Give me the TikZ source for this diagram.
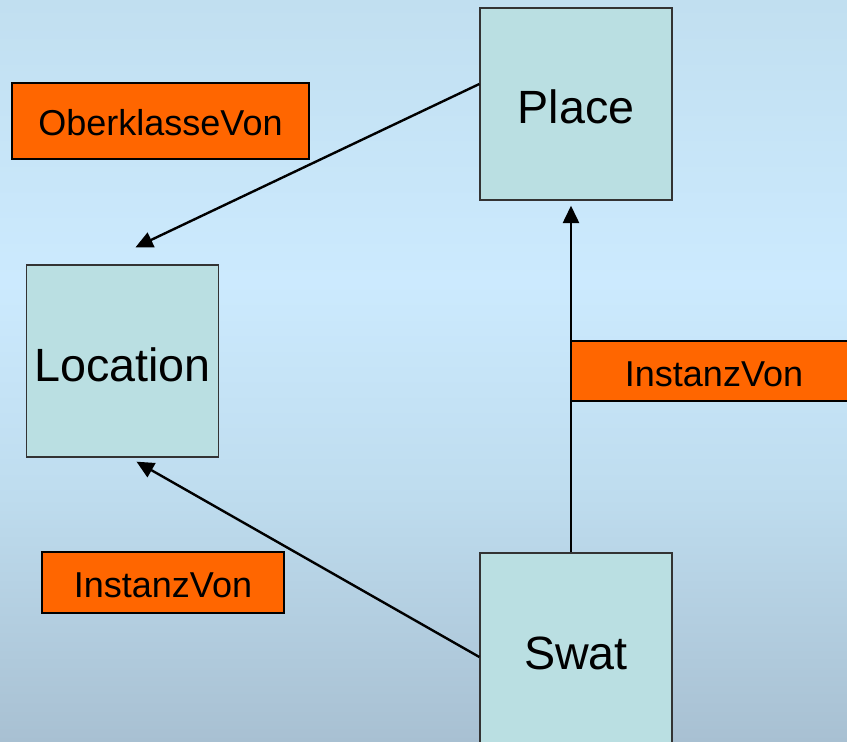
\documentclass[tikz,border=0pt]{standalone}
\usepackage{fontspec}
\setmainfont{Liberation Sans}
\usetikzlibrary{arrows.meta,calc}

\definecolor{bgbottom}{RGB}{168,192,210}
\definecolor{bglow}{RGB}{190,220,238}
\definecolor{bglight}{RGB}{204,234,254}
\definecolor{bgtop}{RGB}{193,223,240}
\definecolor{classfill}{RGB}{186,223,226}
\definecolor{relfill}{RGB}{255,102,0}

\pgfdeclareverticalshading{bgfade}{100bp}{
  color(0bp)=(bgbottom); color(25bp)=(bgbottom);
  color(41.5bp)=(bglow); color(56bp)=(bglight);
  color(75bp)=(bgtop); color(100bp)=(bgtop)}

\tikzset{
  classbox/.style={rectangle, draw=black!80, line width=1pt, fill=classfill,
    minimum width=144pt, minimum height=144pt, inner sep=0pt,
    text height=30pt, text depth=0pt,
    font=\fontsize{35}{40}\selectfont},
  relbox/.style={rectangle, draw=black, line width=1.5pt, fill=relfill,
    inner sep=0pt, text height=22.5pt, text depth=0pt,
    font=\fontsize{27}{32}\selectfont},
  relarrow/.style={-{Triangle[length=13pt,width=12pt]}, line width=1.8pt, draw=black}
}

\begin{document}
\begin{tikzpicture}[x=0.75pt, y=-0.75pt]
  \useasboundingbox (0,0) rectangle (847,742);
  \clip (0,0) rectangle (847,742);
  \shade[shading=bgfade] (0,0) rectangle (847,742);

  % classes
  \node[classbox] (place) at (576,104) {Place};
  \node[classbox] (location) at (122.5,361) {Location};
  \node[classbox] (swat) at (576,649) {Swat};

  % relation labels
  \node[relbox, minimum width=222.75pt, minimum height=57pt] (oberklasse) at (160.5,121) {OberklasseVon};
  \node[relbox, minimum width=214.5pt, minimum height=45pt] (instanzright) at (714,371) {InstanzVon};
  \node[relbox, minimum width=181.5pt, minimum height=45.75pt] (instanzleft) at (163,582.5) {InstanzVon};

  % arrow ends
  \coordinate (placeout) at ($(place.west)+(0,-20)$);
  \coordinate (locabove) at ($(location.north)+(13,-17)$);
  \coordinate (swatleft) at ($(swat.west)+(0,8)$);
  \coordinate (locbelow) at ($(location.south)+(14,4)$);
  \coordinate (swattop) at ($(swat.north)+(-5,0)$);
  \coordinate (placebelow) at ($(place.south)+(-5,5)$);

  \draw[relarrow] (placeout) -- (locabove);
  \draw[relarrow] (swatleft) -- (locbelow);
  \draw[relarrow] (swattop) -- (placebelow);
\end{tikzpicture}
\end{document}
